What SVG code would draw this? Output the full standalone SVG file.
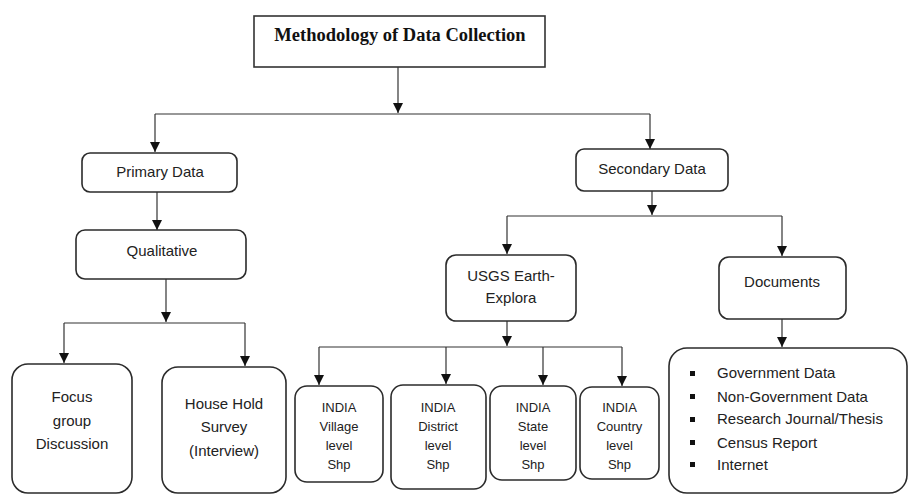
<svg xmlns="http://www.w3.org/2000/svg" width="909" height="495" viewBox="0 0 909 495">
<style>
.box{fill:#fff;stroke:#2b2b2b;stroke-width:1.6}
.t{font-family:"Liberation Sans",Arial,sans-serif;font-size:15px;fill:#222;text-anchor:middle}
.s{font-family:"Liberation Sans",Arial,sans-serif;font-size:13px;fill:#222;text-anchor:middle}
.l{font-family:"Liberation Sans",Arial,sans-serif;font-size:15px;fill:#222}
.title{font-family:"Liberation Serif","Times New Roman",serif;font-size:18.5px;font-weight:bold;fill:#111;text-anchor:middle}
.c{fill:none;stroke:#333;stroke-width:1.2}
</style>
<defs>
<marker id="ah" viewBox="0 0 10 10" refX="10" refY="5" markerWidth="10" markerHeight="10" markerUnits="userSpaceOnUse" orient="auto">
<path d="M0,0 L10,5 L0,10 Z" fill="#111"/>
</marker>
</defs>
<rect width="909" height="495" fill="#fff"/>
<g id="connectors">
<path class="c" d="M398,67 V113" marker-end="url(#ah)"/>
<path class="c" d="M155,114 H650"/>
<path class="c" d="M155,114 V152" marker-end="url(#ah)"/>
<path class="c" d="M650,114 V149" marker-end="url(#ah)"/>
<path class="c" d="M157,192 V230" marker-end="url(#ah)"/>
<path class="c" d="M166,279 V322" marker-end="url(#ah)"/>
<path class="c" d="M64,323 H245"/>
<path class="c" d="M64,323 V363" marker-end="url(#ah)"/>
<path class="c" d="M245,323 V366" marker-end="url(#ah)"/>
<path class="c" d="M652,191 V215" marker-end="url(#ah)"/>
<path class="c" d="M507,216 H782"/>
<path class="c" d="M507,216 V254" marker-end="url(#ah)"/>
<path class="c" d="M782,216 V256" marker-end="url(#ah)"/>
<path class="c" d="M507,321 V346" marker-end="url(#ah)"/>
<path class="c" d="M319,347 H622"/>
<path class="c" d="M319,347 V385" marker-end="url(#ah)"/>
<path class="c" d="M446,347 V384" marker-end="url(#ah)"/>
<path class="c" d="M543,347 V385" marker-end="url(#ah)"/>
<path class="c" d="M622,347 V386" marker-end="url(#ah)"/>
<path class="c" d="M782,319 V347" marker-end="url(#ah)"/>
</g>
<g id="title">
<rect x="254" y="16" width="291" height="51" fill="#fff" stroke="#333" stroke-width="1.6"/>
<text class="title" x="400" y="41">Methodology of Data Collection</text>
</g>
<g id="primary">
<rect class="box" x="82" y="153" width="155" height="39" rx="8"/>
<text class="t" x="160" y="177">Primary Data</text>
</g>
<g id="qualitative">
<rect class="box" x="76" y="230" width="170" height="49" rx="9"/>
<text class="t" x="162" y="256">Qualitative</text>
</g>
<g id="focus">
<rect class="box" x="12" y="364" width="120" height="129" rx="16"/>
<text class="t" x="72" y="402">Focus</text>
<text class="t" x="72" y="426">group</text>
<text class="t" x="72" y="449">Discussion</text>
</g>
<g id="household">
<rect class="box" x="162" y="367" width="124" height="126" rx="16"/>
<text class="t" x="224" y="409">House Hold</text>
<text class="t" x="224" y="432">Survey</text>
<text class="t" x="224" y="456">(Interview)</text>
</g>
<g id="secondary">
<rect class="box" x="576" y="149" width="152" height="42" rx="8"/>
<text class="t" x="652" y="174">Secondary Data</text>
</g>
<g id="usgs">
<rect class="box" x="446" y="255" width="130" height="66" rx="10"/>
<text class="t" x="511" y="281">USGS Earth-</text>
<text class="t" x="511" y="303">Explora</text>
</g>
<g id="documents">
<rect class="box" x="719" y="257" width="127" height="62" rx="10"/>
<text class="t" x="782" y="287">Documents</text>
</g>
<g id="village">
<rect class="box" x="295" y="386" width="88" height="96" rx="12"/>
<text class="s" x="339" y="412">INDIA</text>
<text class="s" x="339" y="431">Village</text>
<text class="s" x="339" y="450">level</text>
<text class="s" x="339" y="469">Shp</text>
</g>
<g id="district">
<rect class="box" x="391" y="385" width="95" height="104" rx="12"/>
<text class="s" x="438" y="412">INDIA</text>
<text class="s" x="438" y="431">District</text>
<text class="s" x="438" y="450">level</text>
<text class="s" x="438" y="469">Shp</text>
</g>
<g id="state">
<rect class="box" x="490" y="386" width="86" height="94" rx="12"/>
<text class="s" x="533" y="412">INDIA</text>
<text class="s" x="533" y="431">State</text>
<text class="s" x="533" y="450">level</text>
<text class="s" x="533" y="469">Shp</text>
</g>
<g id="country">
<rect class="box" x="580" y="387" width="79" height="92" rx="12"/>
<text class="s" x="619.5" y="412">INDIA</text>
<text class="s" x="619.5" y="431">Country</text>
<text class="s" x="619.5" y="450">level</text>
<text class="s" x="619.5" y="469">Shp</text>
</g>
<g id="doclist">
<rect class="box" x="669" y="348" width="238" height="145" rx="18"/>
<g fill="#111">
<rect x="690" y="371" width="5" height="5"/>
<rect x="690" y="394" width="5" height="5"/>
<rect x="690" y="417" width="5" height="5"/>
<rect x="690" y="440" width="5" height="5"/>
<rect x="690" y="462" width="5" height="5"/>
</g>
<text class="l" x="717" y="378">Government Data</text>
<text class="l" x="717" y="402">Non-Government Data</text>
<text class="l" x="717" y="424">Research Journal/Thesis</text>
<text class="l" x="717" y="448">Census Report</text>
<text class="l" x="717" y="470">Internet</text>
</g>
</svg>
